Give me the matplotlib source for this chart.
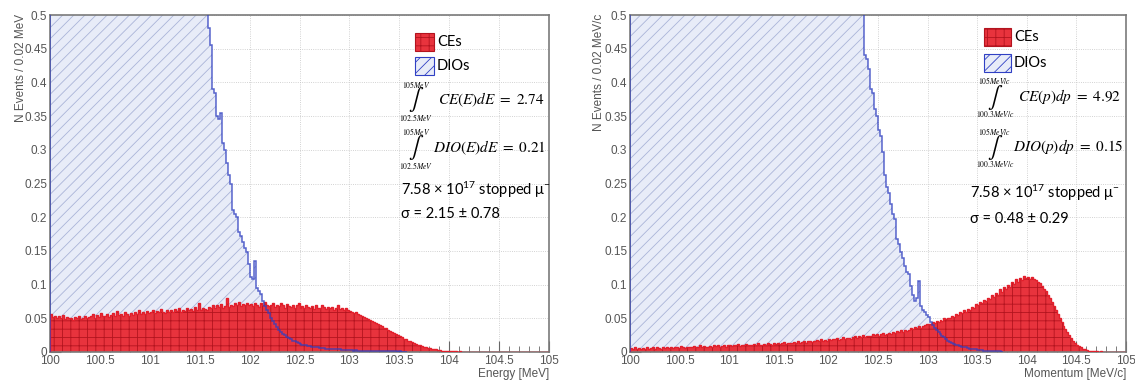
import numpy as np
import matplotlib.pyplot as plt
from matplotlib.ticker import MultipleLocator, FuncFormatter
from matplotlib.patches import Rectangle

plt.rcParams['hatch.linewidth'] = 0.6
plt.rcParams['mathtext.fontset'] = 'custom'
plt.rcParams['mathtext.rm'] = 'Lato'
plt.rcParams['mathtext.it'] = 'Lato:italic'

# histograms: 0.02 wide bins from 100 to 105
bin_width = 0.02
x_lo, x_hi = 100.0, 105.0

# CE energy spectrum, 250 bins
ce_energy = [
    0.056, 0.052, 0.054, 0.050, 0.053, 0.051, 0.055, 0.049, 0.052, 0.050,
    0.051, 0.048, 0.052, 0.050, 0.053, 0.049, 0.051, 0.054, 0.050, 0.052,
    0.053, 0.056, 0.051, 0.055, 0.052, 0.058, 0.054, 0.053, 0.057, 0.052,
    0.055, 0.058, 0.053, 0.061, 0.055, 0.057, 0.054, 0.059, 0.056, 0.053,
    0.058, 0.055, 0.060, 0.057, 0.062, 0.056, 0.059, 0.057, 0.061, 0.058,
    0.060, 0.063, 0.058, 0.061, 0.059, 0.064, 0.060, 0.058, 0.062, 0.060,
    0.062, 0.059, 0.064, 0.061, 0.066, 0.060, 0.063, 0.061, 0.065, 0.062,
    0.064, 0.061, 0.067, 0.063, 0.072, 0.062, 0.066, 0.064, 0.063, 0.067,
    0.066, 0.069, 0.065, 0.070, 0.067, 0.071, 0.066, 0.068, 0.080, 0.067,
    0.070, 0.068, 0.072, 0.069, 0.074, 0.068, 0.071, 0.070, 0.073, 0.069,
    0.071, 0.068, 0.073, 0.070, 0.067, 0.072, 0.069, 0.074, 0.070, 0.068,
    0.069, 0.072, 0.067, 0.070, 0.068, 0.073, 0.069, 0.066, 0.071, 0.068,
    0.067, 0.070, 0.066, 0.069, 0.072, 0.066, 0.068, 0.065, 0.070, 0.067,
    0.066, 0.068, 0.064, 0.069, 0.066, 0.065, 0.070, 0.067, 0.064, 0.067,
    0.065, 0.067, 0.063, 0.066, 0.069, 0.064, 0.066, 0.063, 0.065, 0.062,
    0.061, 0.060, 0.058, 0.059, 0.056, 0.055, 0.054, 0.052, 0.051, 0.049,
    0.047, 0.046, 0.044, 0.043, 0.041, 0.040, 0.038, 0.036, 0.035, 0.033,
    0.031, 0.030, 0.028, 0.027, 0.025, 0.023, 0.022, 0.020, 0.019, 0.017,
    0.016, 0.015, 0.013, 0.012, 0.011, 0.010, 0.009, 0.008, 0.007, 0.006,
    0.006, 0.005, 0.004, 0.004, 0.003, 0.003, 0.002, 0.002, 0.002, 0.001,
    0.001, 0.001, 0.001, 0.001, 0.000, 0.001, 0.000, 0.000, 0.000, 0.000,
    0, 0, 0, 0, 0, 0, 0, 0, 0, 0,
    0, 0, 0, 0, 0, 0, 0, 0, 0, 0,
    0, 0, 0, 0, 0, 0, 0, 0, 0, 0,
    0, 0, 0, 0, 0, 0, 0, 0, 0, 0,
]

# DIO energy spectrum: above the frame top below 101.58 MeV
dio_energy_start = 101.58
dio_energy_offscale = 1.0
dio_energy = [
    0.480, 0.455, 0.390, 0.385, 0.350, 0.345, 0.355, 0.310, 0.300, 0.280,
    0.262, 0.250, 0.210, 0.205, 0.200, 0.178, 0.172, 0.163, 0.155, 0.148,
    0.130, 0.112, 0.108, 0.135, 0.095, 0.090, 0.086, 0.075, 0.068, 0.062,
    0.058, 0.050, 0.046, 0.042, 0.037, 0.033, 0.030, 0.027, 0.025, 0.022,
    0.021, 0.019, 0.017, 0.016, 0.015, 0.013, 0.012, 0.011, 0.011, 0.010,
    0.009, 0.009, 0.008, 0.008, 0.007, 0.007, 0.006, 0.006, 0.006, 0.005,
    0.005, 0.005, 0.005, 0.004, 0.004, 0.004, 0.004, 0.003, 0.003, 0.003,
    0.003, 0.003, 0.003, 0.002, 0.003, 0.002, 0.002, 0.002, 0.002, 0.002,
    0.002, 0.002, 0.001, 0.002, 0.001, 0.001, 0.001, 0.001, 0.001, 0.001,
    0.001, 0.001, 0.001, 0.001, 0.001, 0.000, 0.001, 0.000, 0.000, 0.000,
]

# CE momentum spectrum, 250 bins
ce_momentum = [
    0.006, 0.005, 0.007, 0.005, 0.006, 0.004, 0.006, 0.005, 0.007, 0.005,
    0.006, 0.007, 0.005, 0.008, 0.006, 0.005, 0.007, 0.006, 0.008, 0.006,
    0.007, 0.006, 0.008, 0.007, 0.006, 0.009, 0.007, 0.006, 0.008, 0.007,
    0.008, 0.007, 0.009, 0.008, 0.007, 0.010, 0.008, 0.009, 0.007, 0.008,
    0.009, 0.008, 0.010, 0.009, 0.011, 0.008, 0.009, 0.010, 0.008, 0.010,
    0.010, 0.009, 0.011, 0.010, 0.012, 0.009, 0.011, 0.010, 0.012, 0.010,
    0.011, 0.010, 0.012, 0.011, 0.013, 0.011, 0.010, 0.012, 0.011, 0.013,
    0.012, 0.011, 0.013, 0.012, 0.014, 0.012, 0.013, 0.015, 0.012, 0.014,
    0.014, 0.013, 0.015, 0.014, 0.016, 0.014, 0.015, 0.017, 0.014, 0.016,
    0.016, 0.015, 0.017, 0.016, 0.018, 0.016, 0.019, 0.017, 0.018, 0.017,
    0.019, 0.018, 0.020, 0.019, 0.021, 0.018, 0.020, 0.022, 0.019, 0.021,
    0.021, 0.020, 0.022, 0.024, 0.021, 0.023, 0.022, 0.025, 0.022, 0.024,
    0.024, 0.023, 0.026, 0.025, 0.027, 0.024, 0.026, 0.028, 0.025, 0.027,
    0.028, 0.027, 0.030, 0.028, 0.031, 0.029, 0.032, 0.030, 0.033, 0.031,
    0.033, 0.035, 0.034, 0.037, 0.035, 0.038, 0.036, 0.039, 0.040, 0.041,
    0.042, 0.041, 0.044, 0.043, 0.046, 0.045, 0.048, 0.046, 0.050, 0.049,
    0.051, 0.050, 0.054, 0.052, 0.057, 0.055, 0.059, 0.058, 0.062, 0.060,
    0.064, 0.062, 0.067, 0.066, 0.071, 0.069, 0.074, 0.072, 0.077, 0.075,
    0.080, 0.078, 0.084, 0.082, 0.088, 0.085, 0.093, 0.089, 0.096, 0.094,
    0.099, 0.097, 0.104, 0.101, 0.108, 0.104, 0.110, 0.107, 0.113, 0.110,
    0.112, 0.109, 0.111, 0.108, 0.107, 0.104, 0.102, 0.098, 0.094, 0.090,
    0.085, 0.080, 0.074, 0.068, 0.062, 0.056, 0.050, 0.044, 0.039, 0.034,
    0.029, 0.025, 0.021, 0.017, 0.014, 0.011, 0.009, 0.007, 0.005, 0.004,
    0.003, 0.002, 0.002, 0.001, 0.001, 0.001, 0.000, 0.001, 0.000, 0.000,
    0, 0, 0, 0, 0, 0, 0, 0, 0, 0,
]

# DIO momentum spectrum: above the frame top below 102.36 MeV/c
dio_momentum_start = 102.36
dio_momentum_offscale = 1.0
dio_momentum = [
    0.440, 0.435, 0.420, 0.390, 0.385, 0.360, 0.350, 0.330, 0.320, 0.296,
    0.262, 0.245, 0.236, 0.219, 0.205, 0.197, 0.167, 0.160, 0.148, 0.140,
    0.128, 0.118, 0.115, 0.098, 0.085, 0.075, 0.080, 0.105, 0.068, 0.062,
    0.060, 0.055, 0.052, 0.045, 0.040, 0.036, 0.033, 0.030, 0.027, 0.024,
    0.022, 0.019, 0.017, 0.015, 0.014, 0.012, 0.011, 0.010, 0.009, 0.008,
    0.007, 0.007, 0.006, 0.005, 0.005, 0.004, 0.004, 0.003, 0.003, 0.003,
    0.002, 0.002, 0.002, 0.002, 0.001, 0.001, 0.001, 0.001, 0.001, 0.000,
]

W, H = 1135, 383


def fx(x):
    return x / W


def fy(y):
    return 1 - y / H


fig = plt.figure(figsize=(W / 100, H / 100), dpi=100)
ax1 = fig.add_axes([fx(50), fy(352), 499 / W, 337 / H])
ax2 = fig.add_axes([fx(630), fy(352), 496 / W, 337 / H])

tick_font = ['Liberation Sans Narrow', 'Liberation Sans', 'DejaVu Sans']


def draw_panel(ax, ce, dio_start, dio_off, dio, xlabel):
    ce = np.array(ce)
    ce_edges = x_lo + bin_width * np.arange(len(ce) + 1)
    dio_vals = np.concatenate([[dio_off], dio])
    dio_edges = np.concatenate([[x_lo], dio_start + bin_width * np.arange(len(dio) + 1)])

    ax.stairs(dio_vals, dio_edges, fill=True, facecolor='#e8ecf8',
              edgecolor='#aab4d8', hatch='///', linewidth=0, zorder=1)
    ax.stairs(ce, ce_edges, fill=True, facecolor='#e8333d',
              edgecolor='#b3141f', hatch='++', linewidth=0, zorder=2)
    ax.stairs(ce, ce_edges, color='#e2202c', lw=1.0, zorder=3)
    ax.stairs(dio_vals, dio_edges, color='#2f3fc0', lw=1.1, alpha=0.8, zorder=4)

    ax.set_xlim(x_lo, x_hi)
    ax.set_ylim(0, 0.5)
    ax.xaxis.set_major_locator(MultipleLocator(0.5))
    ax.xaxis.set_minor_locator(MultipleLocator(0.1))
    ax.yaxis.set_major_locator(MultipleLocator(0.05))
    ax.yaxis.set_minor_locator(MultipleLocator(0.01))
    ax.xaxis.set_major_formatter(FuncFormatter(lambda v, p: '%g' % round(v, 2)))
    ax.yaxis.set_major_formatter(FuncFormatter(lambda v, p: '%g' % round(v, 2)))
    ax.tick_params(which='both', direction='in', color='#666666',
                   labelcolor='#555555', labelsize=8.5, pad=2)
    ax.tick_params(which='major', length=8)
    ax.tick_params(which='minor', length=4)
    for lab in ax.get_xticklabels() + ax.get_yticklabels():
        lab.set_family(tick_font)
    ax.grid(True, which='major', color='#c4c4c4', linestyle=':', linewidth=0.6)
    ax.set_axisbelow(True)
    for s in ax.spines.values():
        s.set_color('#7a7a7a')
        s.set_linewidth(1.2)
    ax.set_xlabel(xlabel, family=tick_font, fontsize=8.5, color='#555555',
                  loc='right', labelpad=1)


draw_panel(ax1, ce_energy, dio_energy_start, dio_energy_offscale, dio_energy, 'Energy [MeV]')
draw_panel(ax2, ce_momentum, dio_momentum_start, dio_momentum_offscale, dio_momentum, 'Momentum [MeV/c]')

fig.text(fx(21), fy(14), 'N Events / 0.02 MeV', rotation=90, ha='center', va='top',
         family=tick_font, fontsize=8.5, color='#555555')
fig.text(fx(599), fy(14), 'N Events / 0.02 MeV/c', rotation=90, ha='center', va='top',
         family=tick_font, fontsize=8.5, color='#555555')

txt = dict(family='Lato', math_fontfamily='custom', fontsize=10.5, color='black', va='center')
math = dict(math_fontfamily='stix', color='black', ha='center', va='center')


def legend_box(x0, w, y_ce, y_dio, x_text):
    fig.patches.append(Rectangle((fx(x0), fy(y_ce + 9)), w / W, 18 / H, transform=fig.transFigure,
                                 facecolor='#e8333d', edgecolor='#b3141f', hatch='++', lw=0.8))
    fig.patches.append(Rectangle((fx(x0), fy(y_dio + 9)), w / W, 18 / H, transform=fig.transFigure,
                                 facecolor='#e8ecf8', edgecolor='#3040c4', hatch='///', lw=0.8))
    fig.text(fx(x_text), fy(y_ce), 'CEs', **txt)
    fig.text(fx(x_text), fy(y_dio), 'DIOs', **txt)


def integral(xc, y, upper, lower, expr, x_expr):
    fig.text(fx(xc), fy(y - 16), upper, fontsize=5.5, **math)
    fig.text(fx(xc), fy(y), r'$\int$', fontsize=16, **math)
    fig.text(fx(xc), fy(y + 17), lower, fontsize=5.5, **math)
    fig.text(fx(x_expr), fy(y), expr, fontsize=11, math_fontfamily='stix',
             color='black', ha='left', va='center')


# left panel annotations
legend_box(415, 19, 42, 66, 437)
integral(416, 100, r'$\mathrm{105}MeV$', r'$\mathrm{102.5}MeV$', r'$CE(E)dE\ =\ 2.74$', 438)
integral(416, 148, r'$\mathrm{105}MeV$', r'$\mathrm{102.5}MeV$', r'$DIO(E)dE\ =\ 0.21$', 433)
fig.text(fx(401), fy(190), r'7.58 × 10$^{17}$ stopped μ$^{-}$', ha='left', **txt)
fig.text(fx(401), fy(214), 'σ = 2.15 ± 0.78', ha='left', **txt)

# right panel annotations
legend_box(984, 27, 37, 63, 1014)
integral(995, 97, r'$\mathrm{105}MeV/c$', r'$\mathrm{100.3}MeV/c$', r'$CE(p)dp\ =\ 4.92$', 1018)
integral(995, 147, r'$\mathrm{105}MeV/c$', r'$\mathrm{100.3}MeV/c$', r'$DIO(p)dp\ =\ 0.15$', 1013)
fig.text(fx(970), fy(193), r'7.58 × 10$^{17}$ stopped μ$^{-}$', ha='left', **txt)
fig.text(fx(970), fy(219), 'σ = 0.48 ± 0.29', ha='left', **txt)

fig.savefig('out.png', dpi=100)
